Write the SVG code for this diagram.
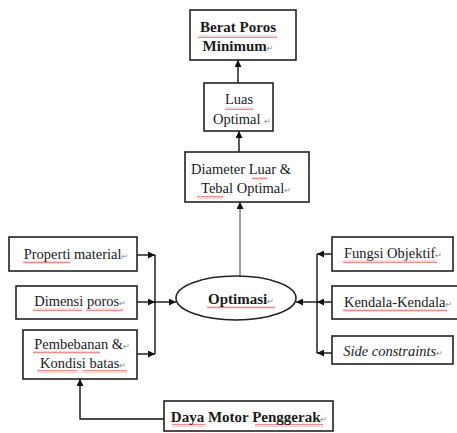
<svg xmlns="http://www.w3.org/2000/svg" width="457" height="433" viewBox="0 0 457 433">
  <style>
    .box { fill: #ffffff; stroke: #222222; stroke-width: 1.6; }
    .lbl { font-family: "Liberation Serif", "Times New Roman", serif; font-size: 14.5px; fill: #1a1a1a; text-anchor: middle; }
    .bold { font-weight: bold; font-size: 15px; }
    .ital { font-style: italic; }
    .pm { font-family: "DejaVu Sans", sans-serif; font-size: 8px; fill: #888888; font-weight: normal; font-style: normal; }
    .wire { fill: none; stroke: #111111; stroke-width: 1.4; }
    .wire-grey { fill: none; stroke: #777777; stroke-width: 1.4; }
    .squiggle { fill: url(#wave); }
  </style>
  <defs>
    <marker id="arrow" viewBox="0 0 10 10" refX="10" refY="5" markerWidth="7" markerHeight="7" markerUnits="userSpaceOnUse" orient="auto">
      <path d="M0,0 L10,5 L0,10 Z" fill="#111111"/>
    </marker>
    <pattern id="wave" x="0" y="0" width="4" height="3" patternUnits="userSpaceOnUse">
      <path d="M0,2.4 L1,0.6 L2,2.4 L3,0.6 L4,2.4" fill="none" stroke="#e03030" stroke-width="0.7" stroke-opacity="0.8"/>
    </pattern>
  </defs>

  <!-- connectors -->
  <g id="connectors">
    <path class="wire" d="M238,83 V60" marker-end="url(#arrow)"/>
    <path class="wire" d="M239,152 V131" marker-end="url(#arrow)"/>
    <path class="wire-grey" d="M240,276 V202" marker-end="url(#arrow)"/>
    <!-- left inputs -->
    <path class="wire" d="M137,255 H155" marker-end="url(#arrow)"/>
    <path class="wire" d="M137,302 H155" marker-end="url(#arrow)"/>
    <path class="wire" d="M137,354 H155" marker-end="url(#arrow)"/>
    <path class="wire" d="M155,255 V354"/>
    <path class="wire" d="M155,302 H176" marker-end="url(#arrow)"/>
    <!-- right inputs -->
    <path class="wire" d="M332,254 H317" marker-end="url(#arrow)"/>
    <path class="wire" d="M332,302 H317" marker-end="url(#arrow)"/>
    <path class="wire" d="M332,353 H317" marker-end="url(#arrow)"/>
    <path class="wire" d="M317,254 V353"/>
    <path class="wire" d="M317,302 H296" marker-end="url(#arrow)"/>
    <!-- motor power to loading -->
    <path class="wire" d="M164,419 H80 V379" marker-end="url(#arrow)"/>
  </g>

  <g id="berat-poros">
    <rect class="box" x="190" y="10" width="106" height="50"/>
    <rect class="squiggle" x="198" y="35" width="79" height="3"/>
    <text class="lbl bold" x="238" y="32">Berat Poros</text>
    <text class="lbl bold" x="238" y="51">Minimum<tspan class="pm">↵</tspan></text>
  </g>

  <g id="luas-optimal">
    <rect class="box" x="204" y="83" width="69" height="48"/>
    <rect class="squiggle" x="225" y="107" width="28" height="3"/>
    <text class="lbl" x="239" y="104">Luas</text>
    <text class="lbl" x="242" y="124">Optimal <tspan class="pm">↵</tspan></text>
  </g>

  <g id="diameter">
    <rect class="box" x="185" y="152" width="124" height="50"/>
    <rect class="squiggle" x="252" y="177" width="15" height="3"/>
    <rect class="squiggle" x="197" y="196" width="26" height="3"/>
    <text class="lbl" x="241" y="174">Diameter Luar &amp;</text>
    <text class="lbl" x="246" y="193">Tebal Optimal<tspan class="pm">↵</tspan></text>
  </g>

  <g id="optimasi">
    <ellipse cx="236" cy="298" rx="60" ry="22" fill="#ffffff" stroke="#222222" stroke-width="1.6"/>
    <rect class="squiggle" x="207" y="306" width="68" height="3"/>
    <text class="lbl bold" x="241" y="304">Optimasi<tspan class="pm">↵</tspan></text>
  </g>

  <g id="properti">
    <rect class="box" x="9" y="237" width="128" height="34"/>
    <rect class="squiggle" x="23" y="261" width="47" height="3"/>
    <text class="lbl" x="76" y="259">Properti material<tspan class="pm">↵</tspan></text>
  </g>

  <g id="dimensi">
    <rect class="box" x="16" y="286" width="121" height="33"/>
    <rect class="squiggle" x="33" y="308" width="49" height="3"/>
    <rect class="squiggle" x="86" y="308" width="37" height="3"/>
    <text class="lbl" x="80" y="306">Dimensi poros<tspan class="pm">↵</tspan></text>
  </g>

  <g id="pembebanan">
    <rect class="box" x="23" y="330" width="114" height="49"/>
    <rect class="squiggle" x="33" y="351" width="67" height="3"/>
    <rect class="squiggle" x="37" y="370" width="40" height="3"/>
    <rect class="squiggle" x="83" y="370" width="44" height="3"/>
    <text class="lbl" x="82" y="349">Pembebanan &amp;<tspan class="pm">↵</tspan></text>
    <text class="lbl" x="83" y="368">Kondisi batas<tspan class="pm">↵</tspan></text>
  </g>

  <g id="fungsi-objektif">
    <rect class="box" x="332" y="237" width="121" height="34"/>
    <rect class="squiggle" x="343" y="260" width="94" height="3"/>
    <text class="lbl" x="393" y="258">Fungsi Objektif<tspan class="pm">↵</tspan></text>
  </g>

  <g id="kendala">
    <rect class="box" x="332" y="286" width="127" height="33"/>
    <rect class="squiggle" x="343" y="309" width="104" height="3"/>
    <text class="lbl" x="398" y="307">Kendala-Kendala<tspan class="pm">↵</tspan></text>
  </g>

  <g id="side-constraints">
    <rect class="box" x="332" y="336" width="121" height="28"/>
    <text class="lbl ital" x="393" y="356">Side constraints<tspan class="pm">↵</tspan></text>
  </g>

  <g id="daya-motor">
    <rect class="box" x="164" y="401" width="169" height="30"/>
    <rect class="squiggle" x="172" y="424" width="33" height="3"/>
    <rect class="squiggle" x="255" y="424" width="68" height="3"/>
    <text class="lbl bold" x="249" y="422">Daya Motor Penggerak<tspan class="pm">↵</tspan></text>
  </g>
</svg>
